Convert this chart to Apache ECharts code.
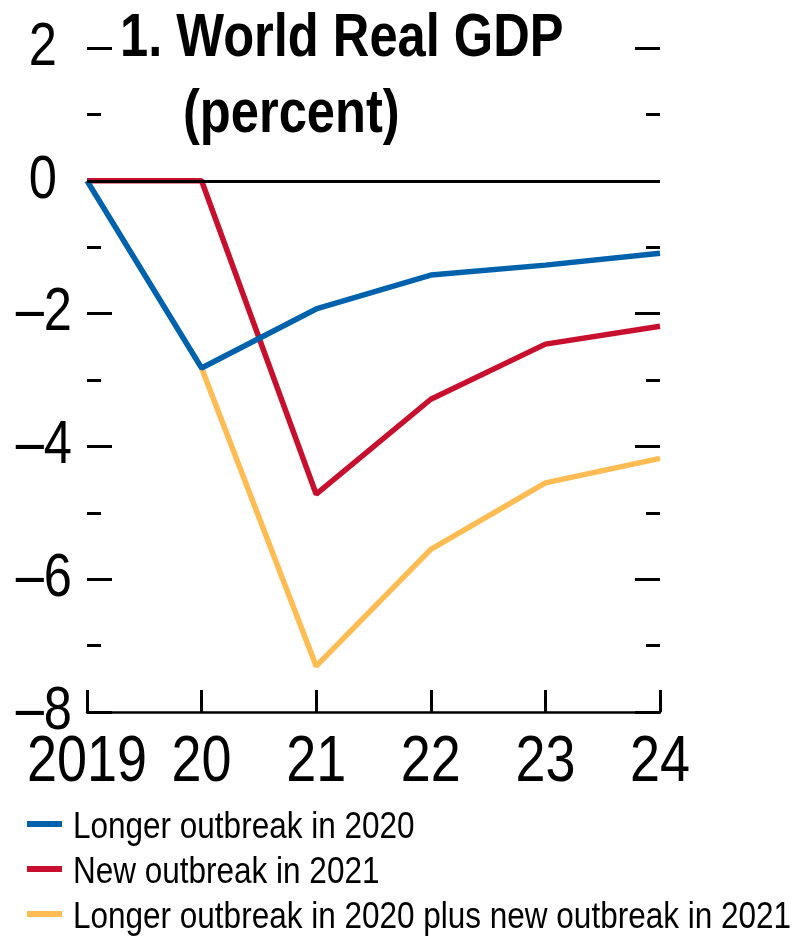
<!DOCTYPE html>
<html>
<head>
<meta charset="utf-8">
<script src="https://cdn.jsdelivr.net/npm/echarts@6/dist/echarts.min.js"></script>
<style>
  html, body { margin: 0; padding: 0; background: #fff; }
  #chart { width: 798px; height: 937px; }
</style>
</head>
<body>
<div id="chart"></div>
<script>
  var years = ['2019', '20', '21', '22', '23', '24'];
  var seriesNames = ['Longer outbreak in 2020', 'New outbreak in 2021', 'Longer outbreak in 2020 plus new outbreak in 2021'];
  var colors = ['#0061AC', '#C8102E', '#FFBC52'];
  var longer2020 = [0, -2.82, -1.93, -1.42, -1.27, -1.09];
  var new2021 = [0, 0, -4.72, -3.29, -2.46, -2.19];
  var both = [null, -2.82, -7.31, -5.55, -4.55, -4.18];
  var yTicks = [2, 0, -2, -4, -6, -8];

  // no narrow font installed -> squeeze Liberation Sans like Arial Narrow
  var narrow = 0.83;
  var fam = "'Liberation Sans', Arial, sans-serif";

  function txt(x, y, text, size, align, bold, sx) {
    return {
      type: 'text',
      x: x,
      y: y,
      scaleX: sx || narrow,
      silent: true,
      style: {
        text: text,
        x: 0,
        y: 0,
        font: (bold ? 'bold ' : '') + size + 'px ' + fam,
        fill: '#000',
        align: align,
        verticalAlign: 'middle'
      }
    };
  }

  function yAxisOpt(pos) {
    return {
      type: 'value',
      position: pos,
      min: -8,
      max: 2,
      interval: 2,
      axisLine: { show: false },
      axisTick: { show: true, inside: true, length: 25, lineStyle: { color: '#000', width: 3 } },
      minorTick: { show: true, splitNumber: 2, length: 14, lineStyle: { color: '#000', width: 3 } },
      splitLine: { show: false },
      axisLabel: { show: false }
    };
  }

  var myChart = echarts.init(document.getElementById('chart'));
  myChart.setOption({
    animation: false,
    grid: { left: 87, right: 138, top: 48, bottom: 225, outerBoundsMode: 'none' },
    xAxis: {
      type: 'category',
      boundaryGap: false,
      data: years,
      axisLine: { onZero: false, lineStyle: { color: '#000', width: 2.5 } },
      axisTick: { inside: true, length: 22, interval: 0, lineStyle: { color: '#000', width: 3 } },
      axisLabel: { show: false }
    },
    yAxis: [yAxisOpt('left'), yAxisOpt('right')],
    series: [{
      name: seriesNames[0],
      type: 'line',
      data: longer2020,
      symbol: 'none',
      lineStyle: { color: colors[0], width: 5.5 },
      itemStyle: { color: colors[0] },
      z: 4
    }, {
      name: seriesNames[1],
      type: 'line',
      data: new2021,
      symbol: 'none',
      lineStyle: { color: colors[1], width: 5.5 },
      itemStyle: { color: colors[1] },
      z: 3
    }, {
      name: seriesNames[2],
      type: 'line',
      data: both,
      symbol: 'none',
      lineStyle: { color: colors[2], width: 5.5 },
      itemStyle: { color: colors[2] },
      z: 2,
      // zero line, under the red line
      markLine: {
        silent: true,
        symbol: 'none',
        label: { show: false },
        lineStyle: { color: '#000', width: 3, type: 'solid' },
        data: [{ yAxis: 0 }]
      }
    }]
  });

  // titles, axis labels and legend as squeezed text
  var g = [];
  g.push(txt(120, 39, '1. World Real GDP', 61, 'left', true));
  g.push(txt(183, 115, '(percent)', 61, 'left', true));

  yTicks.forEach(function (v) {
    var py = myChart.convertToPixel({ yAxisIndex: 0 }, v);
    g.push(txt(v < 0 ? 72 : 57, py, String(v).replace('-', '\u2013'), 61, 'right', false));
  });

  years.forEach(function (c) {
    var px = myChart.convertToPixel({ xAxisIndex: 0 }, c);
    g.push(txt(px, 763, c, 65, 'center', false));
  });

  seriesNames.forEach(function (name, i) {
    var cy = 824 + i * 45;
    g.push({
      type: 'rect',
      silent: true,
      shape: { x: 27, y: cy - 3, width: 35, height: 6 },
      style: { fill: colors[i] }
    });
    g.push(txt(73, cy + 4, name, 36, 'left', false, 0.875));
  });

  myChart.setOption({ graphic: g });
</script>
</body>
</html>
